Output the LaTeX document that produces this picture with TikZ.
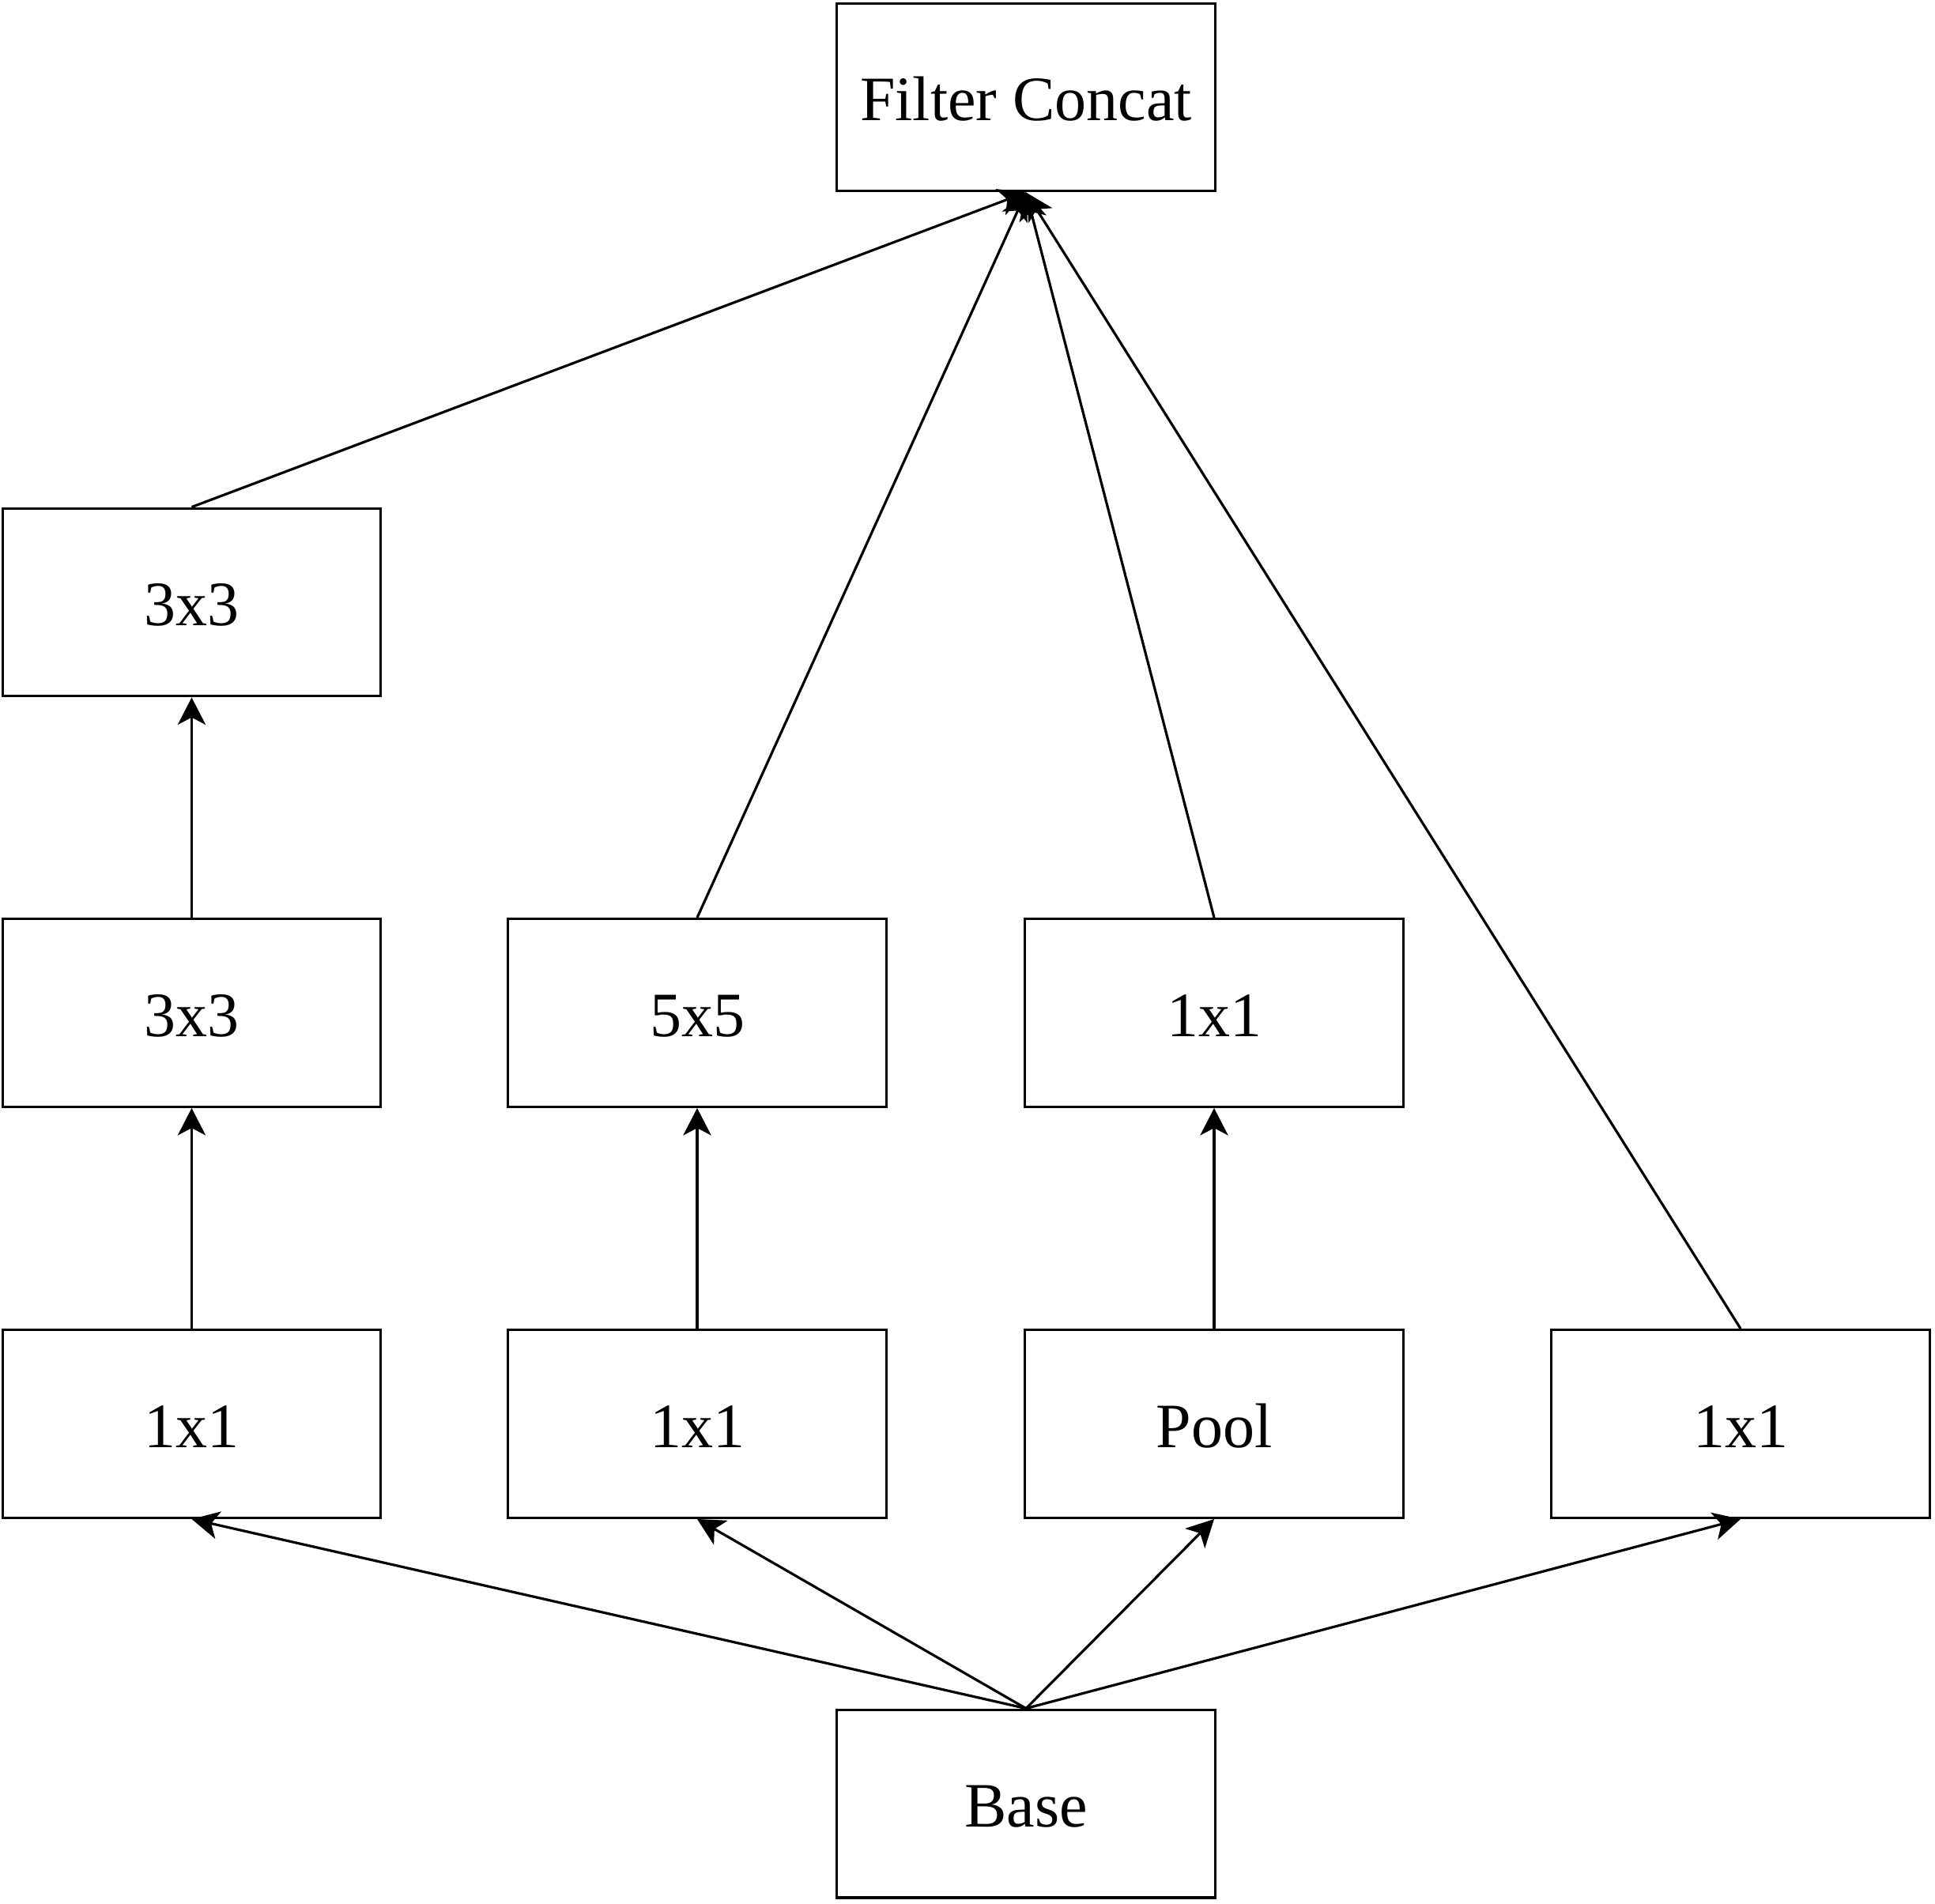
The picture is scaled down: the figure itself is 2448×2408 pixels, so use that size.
\documentclass[tikz,border=0pt]{standalone}
\usepackage{fontspec}
\setmainfont{Liberation Serif}
\usetikzlibrary{arrows.meta}
\begin{document}
\begin{tikzpicture}[x=0.25pt,y=-0.25pt,
  box/.style={draw=black,line width=0.83pt,fill=white,minimum width=119.6pt,minimum height=59.4pt,
    inner sep=0pt,font=\fontsize{20pt}{24pt}\selectfont,text height=14.8pt,text depth=0pt},
  conn/.style={line width=0.8pt,-{Stealth[length=8.6pt,width=8.8pt,inset=2.3pt]}}]
\useasboundingbox (0,0) rectangle (2448,2408);
\node[box] (fc) at (1298,123) {Filter Concat};
\node[box] (a3) at (242.5,762) {3x3};
\node[box] (a2) at (242.5,1281.5) {3x3};
\node[box] (b2) at (882,1281.5) {5x5};
\node[box] (c2) at (1536,1281.5) {1x1};
\node[box] (a1) at (242.5,1801.5) {1x1};
\node[box] (b1) at (882,1801.5) {1x1};
\node[box] (c1) at (1536,1801.5) {Pool};
\node[box] (d1) at (2202,1801.5) {1x1};
\node[box] (base) at (1298,2282) {Base};
\draw[conn] (base.north) -- (a1.south);
\draw[conn] (base.north) -- (b1.south);
\draw[conn] (base.north) -- (c1.south);
\draw[conn] (base.north) -- (d1.south);
\draw[conn] (a1.north) -- (a2.south);
\draw[conn] (a2.north) -- (a3.south);
\draw[conn] (b1.north) -- (b2.south);
\draw[conn] (c1.north) -- (c2.south);
\draw[conn] (a3.north) -- (fc.south);
\draw[conn] (b2.north) -- (fc.south);
\draw[conn] (c2.north) -- (fc.south);
\draw[conn] (d1.north) -- (fc.south);
\end{tikzpicture}
\end{document}
